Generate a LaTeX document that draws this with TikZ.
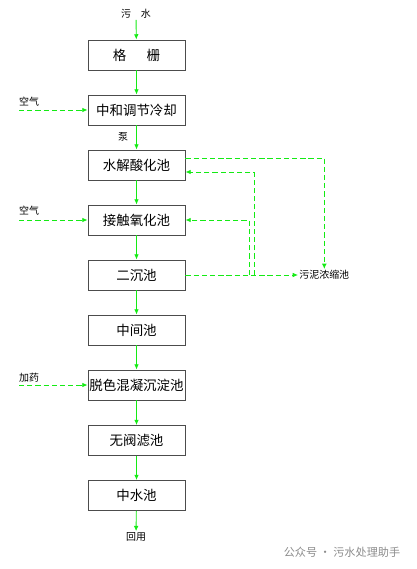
\documentclass[tikz,border=0pt]{standalone}
\usepackage{fontspec}
\newfontfamily\cjk{Noto Sans CJK SC}
\usetikzlibrary{arrows.meta}
\definecolor{flowgreen}{RGB}{20,235,20}
\tikzset{
  pool/.style={draw=black!70, line width=0.8pt, minimum width=2.91cm, minimum height=0.9cm,
    inner sep=0pt, font=\cjk\fontsize{11.5}{12}\selectfont},
  lbl/.style={font=\cjk\fontsize{8.5}{9}\selectfont, inner sep=1pt},
  flow/.style={draw=flowgreen, line width=0.75pt, -{Latex[length=4.5pt,width=4pt]}},
  feed/.style={flow, dash pattern=on 4.5pt off 2.5pt},
}
\begin{document}
\begin{tikzpicture}[x=0.03cm, y=-0.03cm]
    \useasboundingbox (0,0) rectangle (416,569);
    % Main line of treatment
    \node[lbl] (sewage) at (136,14) {污\hspace{1em}水};
    \node[pool] (screen) at (136.5,55) {格\hspace{1.5em}栅};
    \node[pool] (neutral) at (136.5,110) {中和调节冷却};
    \node[pool] (hydro) at (136.5,165) {水解酸化池};
    \node[pool] (contact) at (136.5,220) {接触氧化池};
    \node[pool] (settle) at (136.5,275) {二沉池};
    \node[pool] (middle) at (136.5,330) {中间池};
    \node[pool] (decolor) at (136.5,385) {脱色混凝沉淀池};
    \node[pool] (filter) at (136.5,440.5) {无阀滤池};
    \node[pool] (reclaim) at (136.5,495.5) {中水池};
    \node[lbl] (reuse) at (136,537) {回用};
    \node[lbl] (pump) at (123,137) {泵};

    \foreach \a/\b in {sewage/screen, screen/neutral, neutral/hydro, hydro/contact,
        contact/settle, settle/middle, middle/decolor, decolor/filter,
        filter/reclaim, reclaim/reuse}
      \draw[flow] (\a) -- (\b);

    % Feeds on the left
    \node[lbl, anchor=south west, inner sep=0pt] (air1) at (19,107) {空气};
    \node[lbl, anchor=south west, inner sep=0pt] (air2) at (19,216) {空气};
    \node[lbl, anchor=south west, inner sep=0pt] (dose) at (19,383) {加药};
    \draw[feed] (air1.south west |- neutral) -- (neutral);
    \draw[feed] (air2.south west |- contact) -- (contact);
    \draw[feed] (dose.south west |- decolor) -- (decolor);

    % Sludge and return lines
    \node[lbl, anchor=west] (sludge) at (298,275) {污泥浓缩池};
    \coordinate (ret1) at (254,275);
    \coordinate (ret2) at (249,275);
    \draw[feed] ([yshift=0.21cm]hydro.east) -| (sludge.north);
    \draw[feed] (settle) -- (sludge);
    \draw[feed] (ret1) |- ([yshift=-0.21cm]hydro.east);
    \draw[feed] (ret2) |- (contact);

    % Watermark
    \node[font=\cjk\fontsize{9.5}{10}\selectfont, text=black!45] (mark) at (342,552) {公众号 · 污水处理助手};
\end{tikzpicture}
\end{document}
